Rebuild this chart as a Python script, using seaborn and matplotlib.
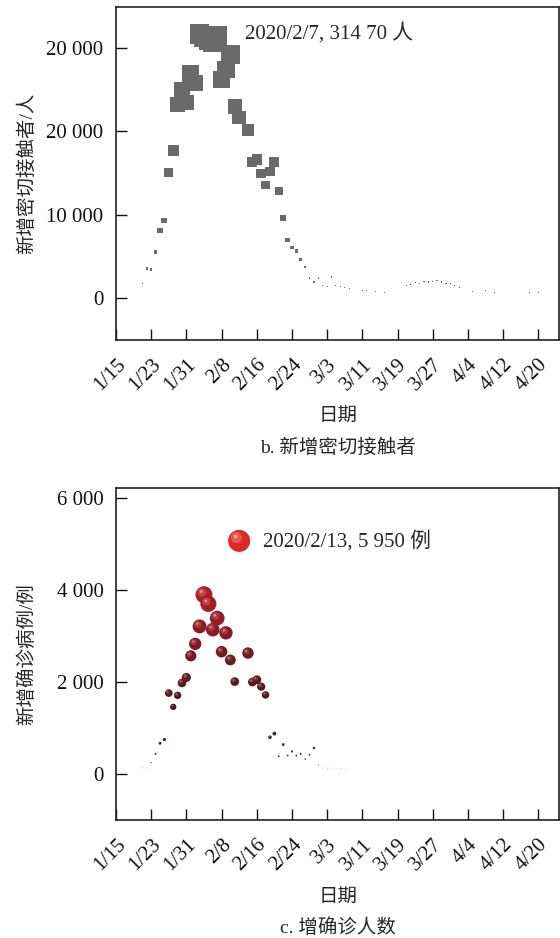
# Daily new close contacts / new confirmed cases, two stacked bubble panels
import numpy as np
import pandas as pd
import matplotlib
matplotlib.use("Agg")
import matplotlib.pyplot as plt
import seaborn as sns
from matplotlib.colors import LinearSegmentedColormap
from matplotlib.path import Path

sns.set_theme(style="ticks")
plt.rcParams['font.family'] = ['Liberation Serif', 'Noto Sans CJK SC']
plt.rcParams['axes.unicode_minus'] = False

# Data (day = days after 1/15)
tick_days = [0, 8, 16, 24, 32, 40, 48, 56, 64, 72, 80, 88, 96]
tick_labels = ["1/15", "1/23", "1/31", "2/8", "2/16", "2/24", "3/3",
               "3/11", "3/19", "3/27", "4/4", "4/12", "4/20"]

contact_days = [6, 7, 8, 9, 10, 11, 12, 13, 14, 15, 16, 17, 18, 19, 20, 21, 22, 23,
                24, 25, 26, 27, 28, 30, 31, 32, 33, 34, 35, 36, 37, 38, 39, 40,
                41, 42, 43, 44, 45, 46, 47, 48, 49, 50, 51, 52, 53, 54, 55, 56,
                57, 58, 59, 60, 61, 62, 63, 64, 65, 66, 67, 68, 69, 70, 71, 72,
                73, 74, 75, 76, 77, 78, 79, 80, 81, 82, 83, 84, 85, 86, 87, 88,
                89, 90, 91, 92, 93, 94, 95, 96, 97]
contact_vals = [1760, 3560, 3440, 5560, 8120, 9320, 15040, 17680, 23240, 24960,
                23440, 26960, 25840, 31700, 31300, 30900, 30700, 31470,
                26200, 27400, 29200, 22960, 21680, 20160, 16360, 16640, 14960,
                13560, 15160, 16360, 12880, 9560, 6960, 6080,
                5640, 4640, 3760, 2400, 1960, 2400, 1500, 1400, 2560, 1560,
                1440, 1300, 1200, 1100, 1000, 950,
                900, 850, 800, 750, 700, 800, 700, 750, 1100, 1500, 1700, 1900,
                1800, 2000, 1950, 2000,
                2150, 1950, 1800, 1750, 1550, 1300, 1100, 900, 800, 700, 850,
                950, 800, 700, 650, 700,
                750, 700, 650, 600, 650, 700, 750, 700, 650]

case_days = [5, 6, 7, 8, 9, 10, 11, 12, 13, 14, 15, 16, 17, 18, 19, 20, 21, 22,
             23, 24, 25, 26, 27, 30, 31, 32, 33, 34, 35, 36, 37, 38, 39, 40,
             41, 42, 43, 44, 45, 46, 47, 48, 49, 50, 51, 52]
case_vals = [80, 150, 130, 250, 440, 670, 750, 1760, 1460, 1710, 1980, 2100,
             2570, 2830, 3210, 3900, 3700, 3140, 3390, 2660, 3070, 2480, 2010,
             2630, 2000, 2050, 1900, 1720, 800, 880, 383, 640, 400, 490,
             400, 435, 326, 420, 565, 200, 130, 120, 110, 130, 120, 100]

peak_case_day = [28]
peak_case_val = [5070]

contacts = pd.DataFrame({"day": contact_days, "val": contact_vals})
cases = pd.DataFrame({"day": case_days, "val": case_vals})
peak = pd.DataFrame({"day": peak_case_day, "val": peak_case_val})

# marker area in pt^2 (side / diameter grows with the value)
contacts["area"] = (contacts["val"] * 0.72 / 1600) ** 2
cases["area"] = (cases["val"] * 0.72 / 230) ** 2
peak["area"] = (peak["val"] * 0.72 / 230) ** 2
a_max_c = contacts["area"].max()
a_max_k = peak["area"].max()

red_cmap = LinearSegmentedColormap.from_list(
    "balls", [(0, "#2a2626"), (0.25, "#3a1a20"), (0.45, "#641a21"),
              (0.7, "#9c1d26"), (1, "#dc2a28")])
hi_cmap = LinearSegmentedColormap.from_list(
    "balls_hi", [(0, "#6a6060"), (0.25, "#7a4a50"), (0.45, "#a84a52"),
                 (0.7, "#d85a5e"), (1, "#f5807a")])


def offset_disc(cx, cy, r):
    # disc inside the unit marker box, kept in place by two corner moves
    frame = Path([(-1, -1), (1, 1)], [Path.MOVETO, Path.MOVETO])
    disc = Path.circle((cx, cy), r)
    return Path.make_compound_path(frame, disc)


glow = offset_disc(-0.25, 0.3, 0.5)
spec = offset_disc(-0.32, 0.38, 0.17)

fig = plt.figure(figsize=(5.6, 9.38), dpi=100)
ax1 = fig.add_axes([116 / 560, 1 - 340 / 938, 443 / 560, 333 / 938])
ax2 = fig.add_axes([116 / 560, 1 - 820 / 938, 443 / 560, 332 / 938])

# b. close contacts
sns.scatterplot(data=contacts, x="day", y="val", size="area",
                sizes=(0, a_max_c), size_norm=(0, a_max_c), marker="s",
                color="#6a6a6a", edgecolor="none", linewidth=0,
                legend=False, ax=ax1)

# c. confirmed cases (base ball + soft glow + specular spot)
for data in (cases, peak):
    sns.scatterplot(data=data, x="day", y="val", size="area",
                    sizes=(0, a_max_k), size_norm=(0, a_max_k),
                    hue="val", palette=red_cmap, hue_norm=(0, 5100),
                    edgecolor="none", linewidth=0, legend=False, ax=ax2)
    sns.scatterplot(data=data, x="day", y="val", size="area",
                    sizes=(0, a_max_k), size_norm=(0, a_max_k),
                    hue="val", palette=hi_cmap, hue_norm=(0, 5100),
                    marker=glow, edgecolor="none", linewidth=0, alpha=0.55,
                    legend=False, ax=ax2)
    sns.scatterplot(data=data, x="day", y="val", size="area",
                    sizes=(0, a_max_k), size_norm=(0, a_max_k),
                    color="white", marker=spec, edgecolor="none",
                    linewidth=0, alpha=0.45, legend=False, ax=ax2)

font_mix = ['Liberation Serif', 'Noto Sans CJK SC']
ax1.text(29.3, 31800, "2020/2/7, 314 70 人", fontsize=15, va="center",
         family=font_mix)
ax2.text(33.4, 5070, "2020/2/13, 5 950 例", fontsize=15, va="center",
         family=font_mix)

ax1.set_ylim(-5000, 34900)
ax1.set_yticks([0, 10000, 20000, 30000])
ax1.set_yticklabels(["0", "10 000", "20 000", "20 000"])
ax2.set_ylim(-1000, 6220)
ax2.set_yticks([0, 2000, 4000, 6000])
ax2.set_yticklabels(["0", "2 000", "4 000", "6 000"])

for ax, ylab in ((ax1, "新增密切接触者/人"), (ax2, "新增确诊病例/例")):
    ax.set_xlim(0, 100.7)
    ax.set_xticks(tick_days)
    ax.set_xticklabels(tick_labels, rotation=45, ha="right",
                       rotation_mode="anchor")
    ax.tick_params(axis="both", direction="in", length=8, width=1,
                   labelsize=15, colors="#111111")
    ax.tick_params(axis="y", pad=9)
    ax.tick_params(axis="x", pad=11)
    for sp in ax.spines.values():
        sp.set_color("#222222")
        sp.set_linewidth(1.2)
    ax.set_xlabel("")
    ax.set_ylabel(ylab, fontsize=14, family=font_mix)
    ax.yaxis.set_label_coords(-0.18, 0.5)

# x labels and panel captions
fig.text(338 / 560, 1 - 416 / 938, "日期", fontsize=14, ha="center",
         va="center", family=font_mix)
fig.text(338 / 560, 1 - 448 / 938, "b. 新增密切接触者", fontsize=14,
         ha="center", va="center", family=font_mix)
fig.text(338 / 560, 1 - 897 / 938, "日期", fontsize=14, ha="center",
         va="center", family=font_mix)
fig.text(338 / 560, 1 - 928 / 938, "c. 增确诊人数", fontsize=14,
         ha="center", va="center", family=font_mix)

fig.savefig("out.png", dpi=100)
